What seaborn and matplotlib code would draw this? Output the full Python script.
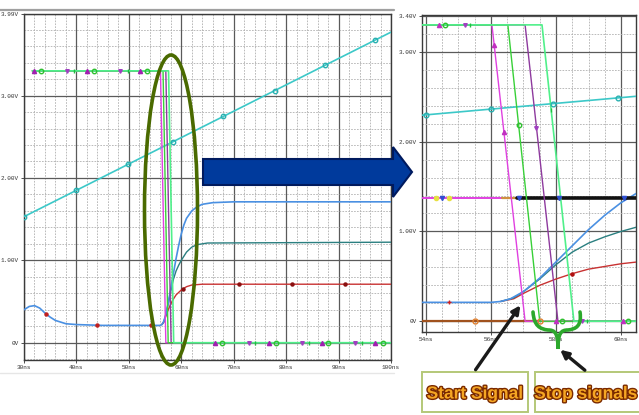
import numpy as np
import matplotlib
matplotlib.use("Agg")
import matplotlib.pyplot as plt
import seaborn as sns
from matplotlib.patches import Ellipse, Polygon, Rectangle, FancyArrowPatch, PathPatch
from matplotlib.path import Path
import matplotlib.patheffects as pe

sns.set_theme(style="white")
plt.rcParams['font.family'] = ['DejaVu Sans']

# ---------------- waveform data (time in ns, level in V) ----------------
ramp_t = [30, 100]
ramp_v = [1.53, 3.77]

blue_t = [30, 31, 32, 33, 34, 35, 36, 37, 38, 40, 45, 50, 56.0, 56.3, 56.6, 57.0,
          57.5, 58.0, 58.5, 59.0, 59.5, 60.0, 60.5, 61, 62, 63, 64, 66, 70, 100]
blue_v = [0.40, 0.44, 0.45, 0.42, 0.36, 0.31, 0.27, 0.25, 0.23, 0.22, 0.21, 0.21, 0.21, 0.22, 0.25, 0.33,
          0.48, 0.66, 0.84, 1.02, 1.18, 1.32, 1.43, 1.51, 1.60, 1.65, 1.68, 1.70, 1.71, 1.71]

teal_t = [56.3, 56.7, 57.0, 57.5, 58.0, 58.5, 59.0, 59.5, 60.0, 60.5, 61, 62, 63, 65, 100]
teal_v = [0.22, 0.26, 0.33, 0.47, 0.63, 0.77, 0.87, 0.94, 1.00, 1.05, 1.10, 1.16, 1.19, 1.21, 1.22]

red_t = [56.3, 56.7, 57.0, 57.5, 58.0, 58.5, 59.0, 59.5, 60.0, 60.5, 61, 62, 64, 100]
red_v = [0.22, 0.25, 0.31, 0.40, 0.47, 0.53, 0.58, 0.61, 0.64, 0.66, 0.68, 0.70, 0.71, 0.71]

step_v = [3.3, 3.3, 0.0, 0.0]
mag_t = [31.6, 56.03, 57.05, 100]
grn_t = [31.6, 56.52, 57.50, 100]
pur_t = [31.6, 57.05, 58.06, 100]
lgr_t = [31.6, 57.57, 58.55, 100]

thr_level = 1.37
thr_pink_t = [53.88, 56.35]
thr_tan_t = [56.35, 56.8]
thr_black_t = [56.8, 60.46]

zero_t = [53.88, 57.5]
zero_v = [0.0, 0.0]

# marker times along each trace
mag_mk_left = [31.9, 42.0, 52.1, 66.4, 76.7, 86.8, 97.0]
grn_mk_left = [33.2, 43.3, 53.4, 67.7, 78.0, 88.0, 98.4]
pur_mk_left = [38.2, 48.3, 72.9, 83.0, 93.2]
lgr_mk_left = [39.5, 49.8, 74.0, 84.3, 94.4]
ramp_mk_left = [30, 40, 49.8, 58.4, 68, 77.8, 87.5, 97]
blue_mk_left = [34.2, 43.9, 54.3]
red_mk_left = [60.3, 71.0, 81.2, 91.3]

mag_mk_right = [54.4, 56.1, 56.4, 58.0, 60.06]
grn_mk_right = [54.58, 56.85, 58.2, 60.2]
pur_mk_right = [55.2, 57.4, 58.8]
lgr_mk_right = [55.36, 57.85, 58.95]
ramp_mk_right = [54.0, 56.0, 57.9, 59.9]
zero_mk_right = [55.5, 57.5]

C_RAMP = '#3cc8c8'
C_BLUE = '#4a90e2'
C_TEAL = '#2a7f80'
C_RED = '#c83232'
C_MAG = '#e040e0'
C_GRN = '#38d038'
C_PUR = '#8e3a9e'
C_LGR = '#50f08a'

W, H = 639, 415
fig = plt.figure(figsize=(W / 100, H / 100), dpi=100)
fig.patch.set_facecolor('white')


def fx(x):
    return x / W


def fy(y):
    return 1 - y / H


def trace(ax, t, v, color, lw=1.0, z=3):
    sns.lineplot(x=t, y=v, ax=ax, color=color, lw=lw, estimator=None,
                 sort=False, zorder=z, legend=False)


def marks(ax, mt, t, v, marker, color, ms=3.2, filled=True, z=4):
    ys = np.interp(mt, t, v)
    if filled:
        ax.plot(mt, ys, ls='none', marker=marker, ms=ms, color=color, zorder=z)
    else:
        ax.plot(mt, ys, ls='none', marker=marker, ms=ms, mfc='none',
                mec=color, mew=1.0, zorder=z)


def style_axes(ax, xmaj, xmin, ymaj, ymin, xlabels, ylabels):
    ax.set_xticks(xmaj)
    ax.set_xticklabels(xlabels)
    ax.set_yticks(ymaj)
    ax.set_yticklabels(ylabels)
    ax.set_xticks(xmin, minor=True)
    ax.set_yticks(ymin, minor=True)
    ax.grid(which='major', color='#5a5a5a', lw=0.9)
    ax.grid(which='minor', color='#b0b0b0', lw=0.6, ls=(0, (2, 1.5)))
    ax.set_axisbelow(True)
    ax.tick_params(which='major', length=2, width=0.6, pad=1.5, colors='#333333',
                   labelsize=4.3, bottom=True, left=True)
    ax.tick_params(which='minor', length=0)
    for lab in ax.get_xticklabels() + ax.get_yticklabels():
        lab.set_family('Liberation Mono')
    for s in ax.spines.values():
        s.set_color('#3a3a3a')
        s.set_linewidth(1.0)
    ax.set_xlabel('')
    ax.set_ylabel('')
    ax.set_facecolor('white')


# ---------------- left: full sweep ----------------
axL = fig.add_axes([fx(24), fy(360), fx(391) - fx(24), fy(14) - fy(360)])
axL.set_xlim(30, 100)
axL.set_ylim(-0.21, 3.99)

trace(axL, ramp_t, ramp_v, C_RAMP, lw=1.2)
trace(axL, red_t, red_v, C_RED)
trace(axL, teal_t, teal_v, C_TEAL)
trace(axL, blue_t, blue_v, C_BLUE, lw=1.2)
trace(axL, mag_t, step_v, C_MAG)
trace(axL, pur_t, step_v, C_PUR)
trace(axL, grn_t, step_v, C_GRN)
trace(axL, lgr_t, step_v, C_LGR, lw=1.2)

marks(axL, ramp_mk_left, ramp_t, ramp_v, 'o', '#2ab0b0', ms=3.2, filled=False)
marks(axL, blue_mk_left, blue_t, blue_v, 'o', '#c02020', ms=2.2)
marks(axL, red_mk_left, red_t, red_v, 'o', '#8a1010', ms=2.2)
marks(axL, mag_mk_left, mag_t, step_v, '^', '#a020b0', ms=3.0)
marks(axL, grn_mk_left, grn_t, step_v, 'o', '#30c030', ms=3.2, filled=False)
marks(axL, pur_mk_left, pur_t, step_v, 'v', '#a040c0', ms=2.6)
marks(axL, lgr_mk_left, lgr_t, step_v, '|', '#20c040', ms=3.5)

style_axes(axL, np.arange(30, 101, 10), np.arange(30, 101, 2),
           [0, 1, 2, 3, 3.99], np.arange(-0.2, 3.99, 0.2),
           [f'{v}ns' for v in range(30, 101, 10)],
           ['0V', '1.00V', '2.00V', '3.00V', '3.99V'])

# ---------------- right: zoom on the transition ----------------
axR = fig.add_axes([fx(422), fy(332), fx(636) - fx(422), fy(15) - fy(332)])
axR.set_xlim(53.88, 60.46)
axR.set_ylim(-0.12, 3.41)

trace(axR, ramp_t, ramp_v, C_RAMP, lw=1.2)
trace(axR, zero_t, zero_v, '#a0521e', lw=1.6)
trace(axR, red_t, red_v, C_RED)
trace(axR, teal_t, teal_v, C_TEAL)
trace(axR, blue_t, blue_v, C_BLUE, lw=1.2)
trace(axR, thr_pink_t, [thr_level] * 2, C_MAG, lw=1.4)
trace(axR, thr_tan_t, [thr_level] * 2, '#d09040', lw=1.6)
trace(axR, thr_black_t, [thr_level] * 2, '#111111', lw=2.6)
trace(axR, mag_t, step_v, C_MAG)
trace(axR, pur_t, step_v, C_PUR)
trace(axR, grn_t, step_v, C_GRN)
trace(axR, lgr_t, step_v, C_LGR, lw=1.2)

marks(axR, ramp_mk_right, ramp_t, ramp_v, 'o', '#2ab0b0', ms=3.4, filled=False)
marks(axR, zero_mk_right, zero_t, zero_v, 'o', '#e08030', ms=3.6, filled=False)
marks(axR, [54.7], blue_t, blue_v, '+', '#d02020', ms=3.5)
marks(axR, [58.5], red_t, red_v, 'o', '#b01010', ms=2.2)
marks(axR, [54.3, 54.7], thr_pink_t, [thr_level] * 2, 'o', '#e8e040', ms=3.0)
marks(axR, [54.5, 56.85, 58.1, 60.1], [53.88, 60.46], [thr_level] * 2, 'v', '#3050d0', ms=3.0)
marks(axR, mag_mk_right, mag_t, step_v, '^', '#c030c0', ms=3.0)
marks(axR, grn_mk_right, grn_t, step_v, 'o', '#30c030', ms=3.2, filled=False)
marks(axR, pur_mk_right, pur_t, step_v, 'v', '#a040c0', ms=2.6)
marks(axR, lgr_mk_right, lgr_t, step_v, '|', '#20c040', ms=3.5)

style_axes(axR, [54, 56, 58, 60], np.arange(54, 60.5, 0.5),
           [0, 1, 2, 3, 3.40], np.arange(0, 3.41, 0.2),
           ['54ns', '56ns', '58ns', '60ns'],
           ['0V', '1.00V', '2.00V', '3.00V', '3.40V'])

# ---------------- call-outs ----------------
# frame lines of the left capture
fig.add_artist(plt.Line2D([0, fx(394)], [fy(10), fy(10)], color='#a0a0a0', lw=1.6))
fig.add_artist(plt.Line2D([0, fx(394)], [fy(373), fy(373)], color='#e6e6e6', lw=1.0))

# ellipse round the switching edges
fig.add_artist(Ellipse((fx(171), fy(210)), fx(53), 310 / H, fill=False,
                       ec='#4a6a00', lw=2.6, zorder=10))

# block arrow between the panels
arrow_px = [(203, 159), (393, 159), (393, 147), (412, 172), (393, 197), (393, 185), (203, 185)]
fig.add_artist(Polygon([(fx(x), fy(y)) for x, y in arrow_px], closed=True,
                       fc='#003a9c', ec='#001a5e', lw=1.5, zorder=10))

# brace under the stop edges
brace_px = [(533, 312), (534, 326), (540, 329), (548, 330),
            (555, 330), (558, 333), (558, 349),
            (558, 333), (561, 330), (568, 330),
            (576, 329), (582, 326), (580, 312)]
codes = [Path.MOVETO, Path.CURVE4, Path.CURVE4, Path.CURVE4,
         Path.CURVE4, Path.CURVE4, Path.CURVE4,
         Path.CURVE4, Path.CURVE4, Path.CURVE4,
         Path.CURVE4, Path.CURVE4, Path.CURVE4]
fig.add_artist(PathPatch(Path([(fx(x), fy(y)) for x, y in brace_px], codes),
                         transform=fig.transFigure, fill=False, ec='#2ca82c',
                         lw=2.6, zorder=11, capstyle='round'))

# label boxes
for x0, x1 in [(422, 528), (535, 645)]:
    fig.add_artist(Rectangle((fx(x0), fy(412)), fx(x1 - x0), (412 - 372) / H,
                             fc='white', ec='#b4c878', lw=1.4, zorder=9))

txt_fx = [pe.Stroke(linewidth=2.0, foreground='#7a2a00'), pe.Normal()]
label_font = ['Liberation Sans Narrow', 'Liberation Sans', 'DejaVu Sans']
fig.text(fx(475), fy(394), 'Start Signal', ha='center', va='center',
         fontsize=12.5, fontweight='bold', color='#f5a623',
         family=label_font, path_effects=txt_fx, zorder=12)
fig.text(fx(586), fy(394), 'Stop signals', ha='center', va='center',
         fontsize=12.5, fontweight='bold', color='#f5a623',
         family=label_font, path_effects=txt_fx, zorder=12)

# pointer arrows
for (x0, y0), (x1, y1) in [((474, 372), (522, 303)), ((587, 372), (558, 348))]:
    fig.add_artist(FancyArrowPatch((fx(x0), fy(y0)), (fx(x1), fy(y1)),
                                   transform=fig.transFigure, arrowstyle='-|>',
                                   mutation_scale=12, lw=2.4, color='#1a1a1a',
                                   zorder=12))

fig.savefig('out.png', dpi=100, facecolor='white')
